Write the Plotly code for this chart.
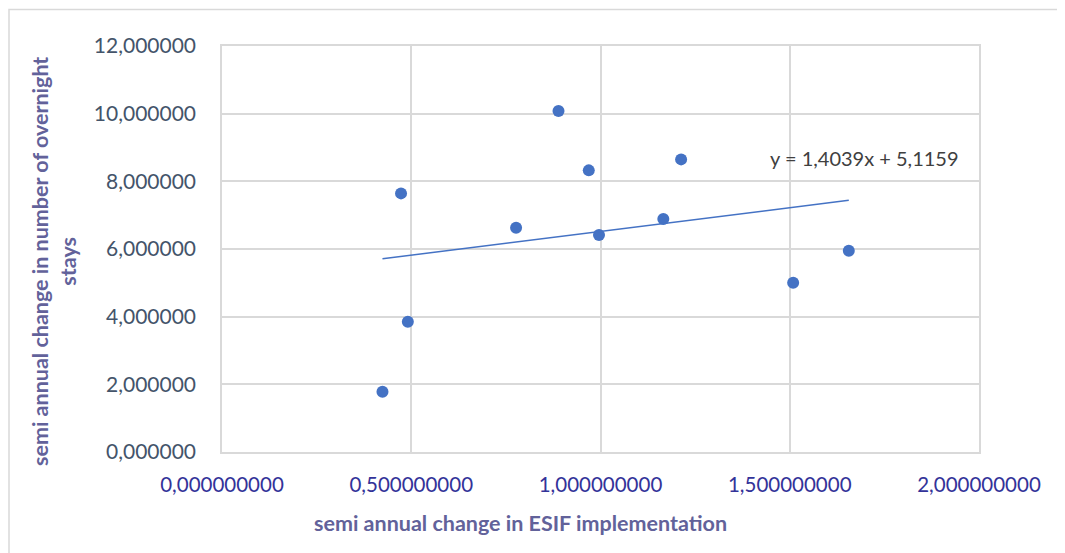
import plotly.graph_objects as go

# Data
esif_change = [0.424, 0.473, 0.491, 0.777, 0.889, 0.969, 0.996, 1.166, 1.213, 1.509, 1.656]
overnight_change = [1.782, 7.644, 3.852, 6.630, 10.080, 8.324, 6.414, 6.887, 8.649, 5.004, 5.950]

trend_slope = 1.4039
trend_intercept = 5.1159
trend_label = "y = 1,4039x + 5,1159"

x_ticks = [0.0, 0.5, 1.0, 1.5, 2.0]
y_ticks = [0, 2, 4, 6, 8, 10, 12]

x_title = "semi annual change in ESIF implementation"
y_title = "semi annual change in number of overnight<br>stays"

FONT = "Lato"
BLUE = "#4472C4"
GRID = "#d9d9d9"

# page offset of the figure (body margin)
OFF = 8
PL, PT, PW, PH = 222, 46, 757, 406  # plot area in page pixels


def px_x(p):
    return (p - PL) / PW


def px_y(p):
    return (PT + PH - p) / PH


x_lo, x_hi = min(esif_change), max(esif_change)
trend_x = [x_lo, x_hi]
trend_y = [trend_slope * v + trend_intercept for v in trend_x]

fig = go.Figure()
fig.add_trace(go.Scatter(
    x=esif_change, y=overnight_change, mode="markers",
    marker=dict(color=BLUE, size=12, line=dict(width=0)),
    showlegend=False, hoverinfo="x+y"))
fig.add_trace(go.Scatter(
    x=trend_x, y=trend_y, mode="lines",
    line=dict(color=BLUE, width=1.5),
    showlegend=False, hoverinfo="skip"))

fig.update_layout(
    width=1065, height=553,
    margin=dict(l=PL - OFF, r=1065 - (PL - OFF) - PW, t=PT - OFF, b=553 - (PT - OFF) - PH),
    paper_bgcolor="white", plot_bgcolor="white",
    separators=", ",
    font=dict(family=FONT),
    xaxis=dict(
        range=[0, 2], tickvals=x_ticks, tickformat=".9f",
        showgrid=True, gridcolor=GRID, gridwidth=1.5,
        showline=True, linecolor=GRID, linewidth=1.5, mirror=True,
        zeroline=False, ticks="", ticklabelstandoff=14,
        tickfont=dict(family=FONT, size=20.5, color="#333399"),
    ),
    yaxis=dict(
        range=[0, 12], tickvals=y_ticks, tickformat=".6f",
        showgrid=True, gridcolor=GRID, gridwidth=1.5,
        showline=True, linecolor=GRID, linewidth=1.5, mirror=True,
        zeroline=False, ticks="", ticklabelstandoff=20,
        tickfont=dict(family=FONT, size=21, color="#44546A"),
    ),
    annotations=[
        dict(text=trend_label, xref="paper", yref="paper",
             x=px_x(768), y=px_y(158),
             showarrow=False, xanchor="left", yanchor="middle",
             font=dict(family=FONT, size=20, color="#404040")),
        dict(text="<b>" + x_title + "</b>", xref="paper", yref="paper",
             x=px_x(520), y=px_y(523),
             showarrow=False, xanchor="center", yanchor="middle",
             font=dict(family=FONT, size=21.5, color="#62629A")),
        dict(text="<b>" + y_title + "</b>", xref="paper", yref="paper",
             x=px_x(54), y=px_y(262), textangle=-90,
             showarrow=False, xanchor="center", yanchor="middle",
             font=dict(family=FONT, size=21.5, color="#62629A")),
    ],
    shapes=[
        dict(type="rect", xref="paper", yref="paper",
             x0=px_x(9), x1=px_x(1075),
             y0=px_y(570), y1=px_y(9.5),
             line=dict(color=GRID, width=1.5), layer="below"),
    ],
)

fig.write_html("out.html")
